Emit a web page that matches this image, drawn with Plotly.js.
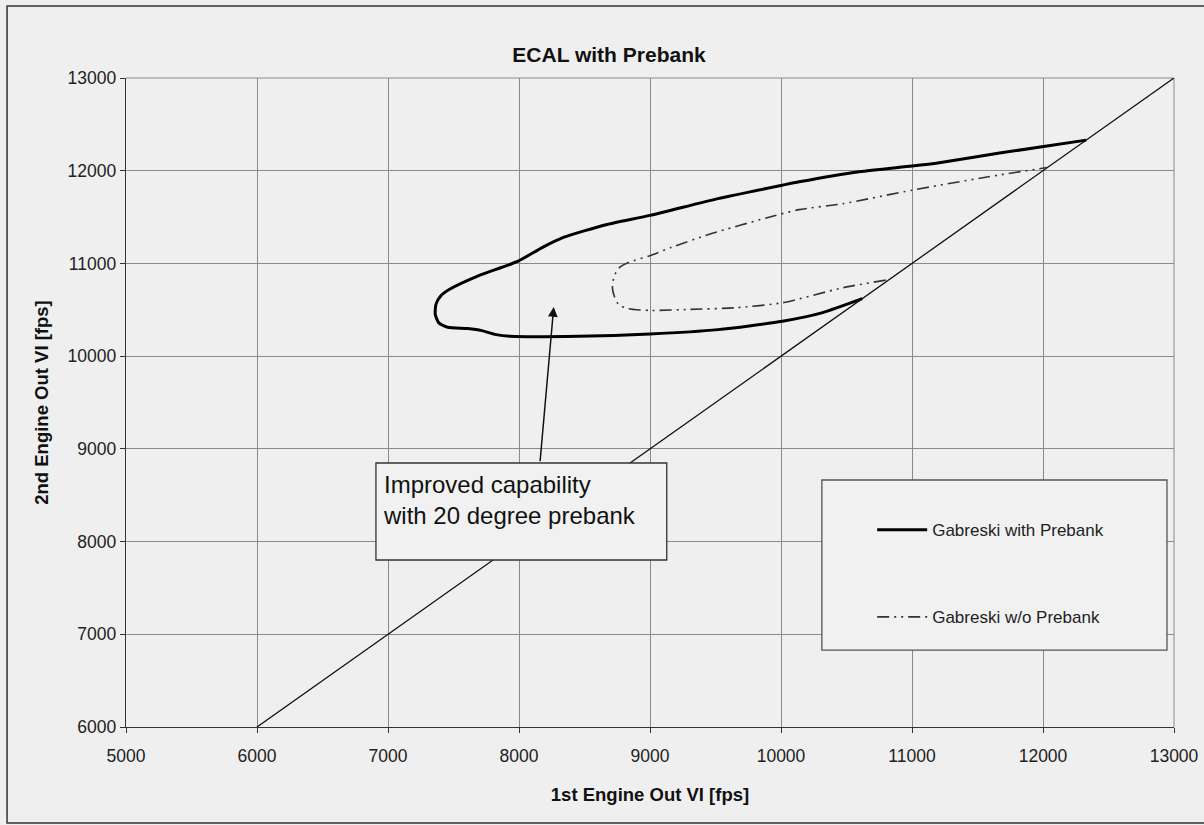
<!DOCTYPE html>
<html>
<head>
<meta charset="utf-8">
<script src="https://cdn.plot.ly/plotly-3.0.1.min.js"></script>
<style>
  html, body { margin: 0; padding: 0; background: #efefef; }
  #chart { width: 1204px; height: 825px; }
</style>
</head>
<body>
<div id="chart"></div>
<script>
// ---- Data ----
const withPrebankX = [10620, 10311, 10011, 9519, 9000, 8454, 7934, 7825, 7716, 7607, 7456, 7388, 7361, 7366, 7402, 7470, 7689, 7989, 8180, 8344, 8672, 9000, 9519, 10011, 10138, 10597, 11000, 11208, 11668, 12330];
const withPrebankY = [10620, 10467, 10377, 10286, 10239, 10214, 10214, 10232, 10275, 10297, 10312, 10359, 10449, 10558, 10649, 10721, 10866, 11022, 11174, 11283, 11420, 11518, 11699, 11844, 11880, 11989, 12051, 12087, 12190, 12330];

const noPrebankX = [10800, 10475, 10011, 9656, 9301, 9000, 8836, 8760, 8727, 8713, 8727, 8768, 8836, 9000, 9164, 9464, 9929, 10138, 10475, 11000, 11541, 12030];
const noPrebankY = [10820, 10739, 10576, 10522, 10504, 10493, 10511, 10558, 10649, 10739, 10866, 10957, 11011, 11083, 11174, 11319, 11507, 11580, 11645, 11790, 11925, 12035];

const diagonalX = [6000, 13000];
const diagonalY = [6000, 13000];

const seriesNames = ["Gabreski with Prebank", "Gabreski w/o Prebank"];
const xTicks = [5000, 6000, 7000, 8000, 9000, 10000, 11000, 12000, 13000];
const yTicks = [6000, 7000, 8000, 9000, 10000, 11000, 12000, 13000];
const chartTitle = "ECAL with Prebank";
const xTitle = "1st Engine Out VI [fps]";
const yTitle = "2nd Engine Out VI [fps]";
const noteText = "Improved capability<br>with 20 degree prebank";
const arrowHead = [8265, 10530];
const arrowTail = [8160, 8850];

const FONT = "Liberation Sans, Arial, sans-serif";
const BG = "#efefef";

const traces = [
  {
    x: diagonalX, y: diagonalY, mode: "lines", showlegend: false, hoverinfo: "skip",
    line: { color: "#111", width: 1.3 }
  },
  {
    x: withPrebankX, y: withPrebankY, mode: "lines", name: seriesNames[0],
    legendgroup: "a", line: { color: "#000", width: 3, shape: "spline", smoothing: 0.6 }
  },
  {
    x: noPrebankX, y: noPrebankY, mode: "lines", name: seriesNames[1],
    legendgroup: "b", line: { color: "#333", width: 1.6, dash: "12px,5px,2px,5px,2px,5px", shape: "spline", smoothing: 0.6 }
  }
];

const layout = {
  width: 1204, height: 825,
  paper_bgcolor: BG, plot_bgcolor: BG,
  margin: { l: 126, r: 30, t: 78, b: 98 },
  font: { family: FONT, color: "#222", size: 17 },
  title: {
    text: "<b>" + chartTitle + "</b>",
    x: 609 / 1204, xanchor: "center", xref: "container",
    y: 1 - 55 / 825, yanchor: "middle", yref: "container",
    font: { family: FONT, size: 21, color: "#111" }
  },
  xaxis: {
    range: [5000, 13000], tickvals: xTicks, ticktext: xTicks.map(String),
    showgrid: true, gridcolor: "#8a8a8a", gridwidth: 1,
    showline: true, linecolor: "#333", linewidth: 1.3,
    ticks: "outside", ticklen: 5, tickcolor: "#333",
    ticklabelstandoff: 8,
    zeroline: false,
    tickfont: { family: FONT, size: 17.5, color: "#222" },
    title: { text: "<b>" + xTitle + "</b>", standoff: 22, font: { family: FONT, size: 18.5, color: "#111" } }
  },
  yaxis: {
    range: [6000, 13000], tickvals: yTicks, ticktext: yTicks.map(String),
    showgrid: true, gridcolor: "#8a8a8a", gridwidth: 1,
    showline: true, linecolor: "#333", linewidth: 1.3,
    ticks: "outside", ticklen: 5, tickcolor: "#333",
    zeroline: false,
    tickfont: { family: FONT, size: 17.5, color: "#222" },
    title: { text: "<b>" + yTitle + "</b>", standoff: 14, font: { family: FONT, size: 18.5, color: "#111" } }
  },
  showlegend: true,
  legend: {
    x: 0.712, y: 0.331, xanchor: "left", yanchor: "top",
    bgcolor: "rgba(0,0,0,0)", borderwidth: 0,
    font: { family: FONT, size: 17, color: "#222" },
    traceorder: "grouped", tracegroupgap: 62, itemwidth: 50
  },
  shapes: [
    // outer frame
    { type: "rect", xref: "paper", yref: "paper", x0: -0.1135, x1: 1.1, y0: -0.1479, y1: 1.111,
      line: { color: "#333", width: 1.5 }, fillcolor: "rgba(0,0,0,0)", layer: "above" },
    // top / right plot border (gray)
    { type: "line", xref: "paper", yref: "paper", x0: 0, x1: 1, y0: 1, y1: 1, line: { color: "#8a8a8a", width: 1 }, layer: "below" },
    { type: "line", xref: "paper", yref: "paper", x0: 1, x1: 1, y0: 0, y1: 1, line: { color: "#8a8a8a", width: 1 }, layer: "below" },
    // note box
    { type: "rect", xref: "paper", yref: "paper", x0: 0.2385, x1: 0.516, y0: 0.2573, y1: 0.4068,
      line: { color: "#333", width: 1.3 }, fillcolor: "#f1f1f1", layer: "above" },
    // legend box
    { type: "rect", xref: "paper", yref: "paper", x0: 0.664, x1: 0.9933, y0: 0.1186, y1: 0.3806,
      line: { color: "#555", width: 1.3 }, fillcolor: "#f1f1f1", layer: "above" }
  ],
  annotations: [
    {
      xref: "paper", yref: "paper", x: 0.2433, y: 0.398, xanchor: "left", yanchor: "top",
      text: noteText, showarrow: false, align: "left",
      font: { family: FONT, size: 24, color: "#111" }
    },
    {
      x: arrowHead[0], y: arrowHead[1], xref: "x", yref: "y",
      ax: arrowTail[0], ay: arrowTail[1], axref: "x", ayref: "y",
      text: "", showarrow: true, arrowhead: 2, arrowsize: 1.3, arrowwidth: 1.5, arrowcolor: "#111"
    }
  ]
};

Plotly.newPlot("chart", traces, layout, { displayModeBar: false, staticPlot: true });
</script>
</body>
</html>
